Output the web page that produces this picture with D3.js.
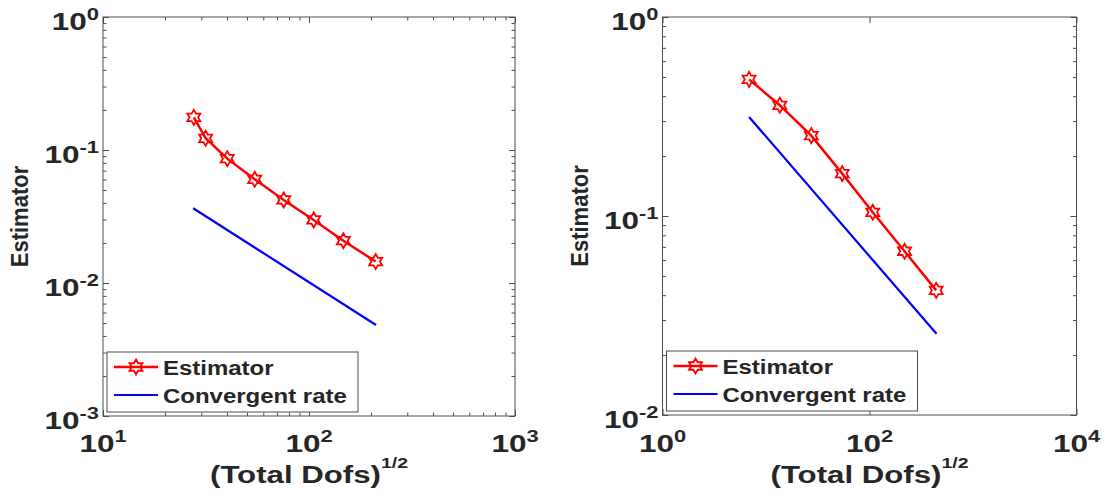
<!DOCTYPE html>
<html>
<head>
<meta charset="utf-8">
<script src="https://cdn.jsdelivr.net/npm/d3@7"></script>
<style>
  html, body { margin: 0; padding: 0; background: #fff; }
  svg { display: block; }
  text { font-family: "Liberation Sans", Arial, Helvetica, sans-serif; font-weight: bold; fill: #262626; }
</style>
</head>
<body>
<svg id="chart" width="1106" height="503"></svg>
<script>
// left panel: estimator vs (total dofs)^(1/2)
var leftDofs = [27.6, 31.5, 40.1, 54.5, 75.4, 105.4, 146.8, 210.7];
var leftEst = [0.176, 0.1225, 0.0861, 0.0602, 0.0421, 0.0298, 0.0208, 0.0145];
var leftRateDofs = [27.4, 211.5];
var leftRate = [0.0365, 0.00483];
var leftXExp = [1, 2, 3];
var leftYExp = [-3, -2, -1, 0];

// right panel
var rightDofs = [6.86, 13.6, 27.4, 54.5, 107.4, 218, 441];
var rightEst = [0.486, 0.360, 0.2535, 0.1633, 0.1044, 0.0665, 0.0423];
var rightRateDofs = [6.86, 444];
var rightRate = [0.3145, 0.0256];
var rightXExp = [0, 2, 4];
var rightYExp = [-2, -1, 0];

var seriesNames = ['Estimator', 'Convergent rate'];
var xTitle = '(Total Dofs)';
var xTitleSup = '1/2';
var yTitle = 'Estimator';

var axisColor = '#4d4d4d';
var svg = d3.select('#chart');

function hexagram(r) {
    var pts = [];
    for (var i = 0; i < 12; i++) {
        var a = -Math.PI / 2 + i * Math.PI / 6;
        var rr = i % 2 === 0 ? r : r / Math.sqrt(3);
        pts.push([rr * Math.cos(a), rr * Math.sin(a)]);
    }
    return 'M' + pts.map(function (p) { return p[0].toFixed(2) + ',' + p[1].toFixed(2); }).join('L') + 'Z';
}

function powerLabel(g, x, y, base, sup, o) {
    var t = g.append('g')
        .attr('transform', 'translate(' + x + ',' + y + ') scale(' + o.sx + ',1)')
        .append('text')
        .attr('text-anchor', o.anchor)
        .style('font-size', o.size + 'px');
    t.append('tspan').text(base);
    t.append('tspan').attr('dy', -o.rise).style('font-size', o.supSize + 'px').text(sup);
}

var panels = [
    { dofs: leftDofs, est: leftEst, rateDofs: leftRateDofs, rate: leftRate,
      xExp: leftXExp, yExp: leftYExp, left: 103, right: 515, top: 17, bottom: 416,
      xMinor: true, ylabelX: 28 },
    { dofs: rightDofs, est: rightEst, rateDofs: rightRateDofs, rate: rightRate,
      xExp: rightXExp, yExp: rightYExp, left: 662.5, right: 1076.5, top: 17, bottom: 415,
      xMinor: false, ylabelX: 588 }
];

panels.forEach(function (p) {
    var xMin = d3.min(p.xExp), xMax = d3.max(p.xExp);
    var yMin = d3.min(p.yExp), yMax = d3.max(p.yExp);
    var x = d3.scaleLog().domain([Math.pow(10, xMin), Math.pow(10, xMax)]).range([p.left, p.right]);
    var y = d3.scaleLog().domain([Math.pow(10, yMin), Math.pow(10, yMax)]).range([p.bottom, p.top]);
    var w = p.right - p.left, h = p.bottom - p.top;
    var g = svg.append('g');

    var xMajor = p.xExp.map(function (e) { return Math.pow(10, e); });
    var yMajor = p.yExp.map(function (e) { return Math.pow(10, e); });
    var isMajor = function (list) {
        return function (v) { return !list.some(function (m) { return Math.abs(v / m - 1) < 1e-6; }); };
    };
    var xMinorVals = p.xMinor ? x.ticks().filter(isMajor(xMajor)) : [];
    var yMinorVals = y.ticks().filter(isMajor(yMajor));

    // ticks on all four sides, pointing inward
    var axes = [
        { gen: d3.axisBottom(x), tr: 'translate(0,' + p.bottom + ')', major: xMajor, minor: xMinorVals },
        { gen: d3.axisTop(x), tr: 'translate(0,' + p.top + ')', major: xMajor, minor: xMinorVals },
        { gen: d3.axisLeft(y), tr: 'translate(' + p.left + ',0)', major: yMajor, minor: yMinorVals },
        { gen: d3.axisRight(y), tr: 'translate(' + p.right + ',0)', major: yMajor, minor: yMinorVals }
    ];
    axes.forEach(function (a) {
        [[a.major, 6], [a.minor, 3.5]].forEach(function (set) {
            var ag = g.append('g').attr('transform', a.tr)
                .call(a.gen.tickValues(set[0]).tickSize(-set[1]).tickSizeOuter(0).tickFormat(''));
            ag.select('.domain').remove();
            ag.selectAll('line').attr('stroke', axisColor).attr('stroke-width', 1);
        });
    });

    g.append('rect')
        .attr('x', p.left).attr('y', p.top).attr('width', w).attr('height', h)
        .attr('fill', 'none').attr('stroke', axisColor).attr('stroke-width', 1);

    // rate line
    var line = d3.line()
        .x(function (d) { return x(d[0]); })
        .y(function (d) { return y(d[1]); });
    g.append('path')
        .datum(d3.zip(p.rateDofs, p.rate))
        .attr('d', line)
        .attr('fill', 'none').attr('stroke', '#0000ff').attr('stroke-width', 2.2);

    // estimator line + markers
    var estData = d3.zip(p.dofs, p.est);
    g.append('path')
        .datum(estData)
        .attr('d', line)
        .attr('fill', 'none').attr('stroke', '#ff0000').attr('stroke-width', 2.5);
    g.selectAll('.mk').data(estData).enter().append('path')
        .attr('class', 'mk')
        .attr('transform', function (d) { return 'translate(' + x(d[0]) + ',' + y(d[1]) + ')'; })
        .attr('d', hexagram(7.5))
        .attr('fill', 'none').attr('stroke', '#ff0000').attr('stroke-width', 1.8);

    // tick labels
    p.yExp.forEach(function (e) {
        powerLabel(g, p.left - 4, y(Math.pow(10, e)) + 13, '10', String(e),
            { anchor: 'end', sx: 1.37, size: 23, supSize: 16, rise: 10 });
    });
    p.xExp.forEach(function (e) {
        powerLabel(g, x(Math.pow(10, e)), 452, '10', String(e),
            { anchor: 'middle', sx: 1.37, size: 23, supSize: 16, rise: 10 });
    });

    // axis titles
    powerLabel(g, p.left + w / 2, 483, xTitle, xTitleSup,
        { anchor: 'middle', sx: 1.3, size: 24, supSize: 15, rise: 15 });
    g.append('g')
        .attr('transform', 'translate(' + p.ylabelX + ',' + (p.top + h / 2) + ') scale(1.1,1) rotate(-90)')
        .append('text').attr('text-anchor', 'middle').style('font-size', '22px').text(yTitle);

    // legend
    var lx = p.left + 4, ly = p.bottom - 64;
    var lg = g.append('g').attr('transform', 'translate(' + lx + ',' + ly + ')');
    lg.append('rect').attr('width', 251).attr('height', 60)
        .attr('fill', '#fff').attr('stroke', axisColor).attr('stroke-width', 1);
    var rows = [
        { name: seriesNames[0], color: '#ff0000', width: 2.5, marker: true, cy: 15 },
        { name: seriesNames[1], color: '#0000ff', width: 2.2, marker: false, cy: 43 }
    ];
    rows.forEach(function (r) {
        lg.append('line').attr('x1', 7).attr('x2', 51).attr('y1', r.cy).attr('y2', r.cy)
            .attr('stroke', r.color).attr('stroke-width', r.width);
        if (r.marker) {
            lg.append('path').attr('transform', 'translate(29,' + r.cy + ')')
                .attr('d', hexagram(7.5))
                .attr('fill', 'none').attr('stroke', r.color).attr('stroke-width', 1.8);
        }
        lg.append('g').attr('transform', 'translate(56,' + (r.cy + 7.5) + ') scale(1.23,1)')
            .append('text').style('font-size', '19.5px').text(r.name);
    });
});
</script>
</body>
</html>
